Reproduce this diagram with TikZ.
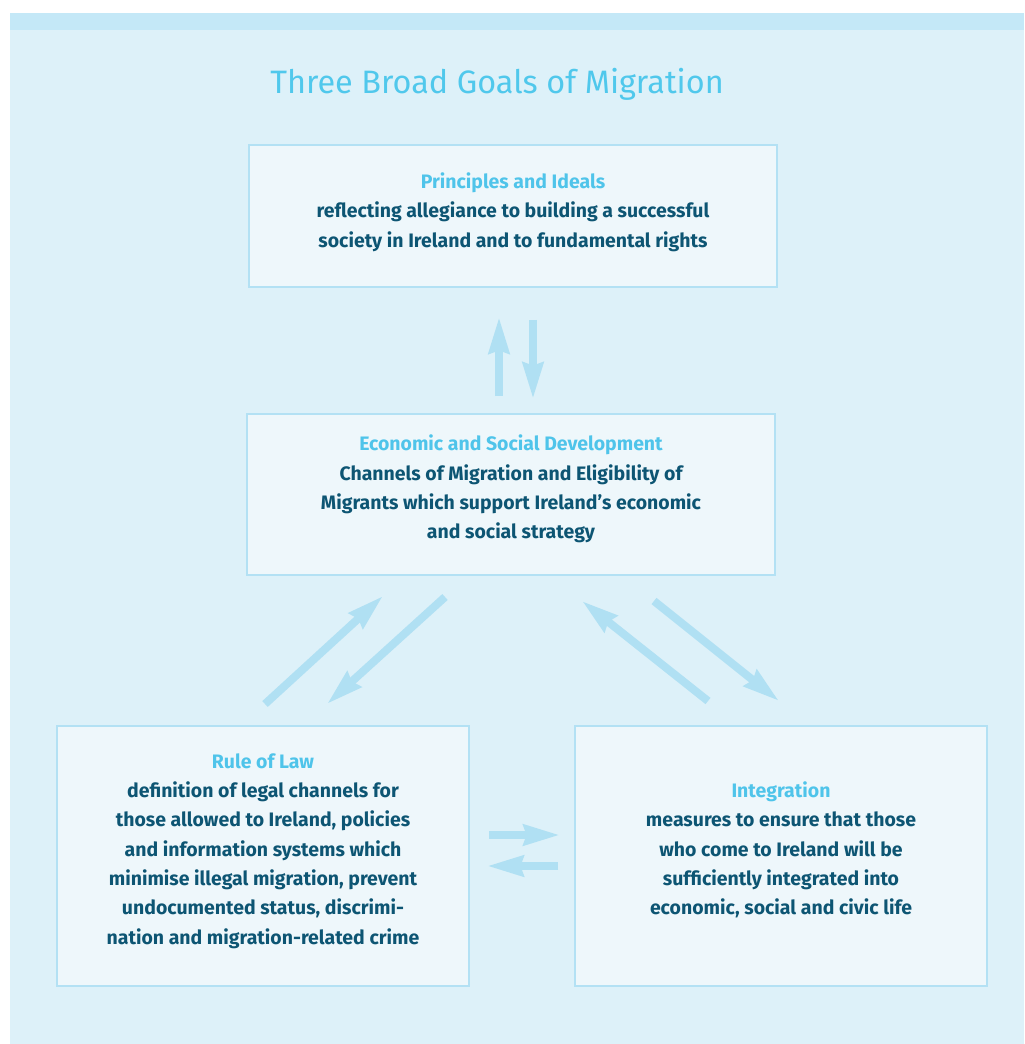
\documentclass[tikz,border=0pt]{standalone}
\usepackage{fontspec}
\setmainfont{Fira Sans}
\usetikzlibrary{arrows.meta}
\newdimen\pxu \pxu=0.75pt
\definecolor{bgc}{HTML}{DDF1F9}
\definecolor{stripec}{HTML}{C4E8F7}
\definecolor{boxfill}{HTML}{EEF7FB}
\definecolor{boxline}{HTML}{B3E1F4}
\definecolor{arrowc}{HTML}{B0E0F3}
\definecolor{titlec}{HTML}{50C8EC}
\definecolor{headc}{HTML}{4FC4EA}
\definecolor{bodyc}{HTML}{0D5573}
\tikzset{
  goalbox/.style={draw=boxline, fill=boxfill, line width=2pt, rectangle, inner sep=0pt},
  goaltext/.style={align=center, text=bodyc, font=\fontsize{14.6}{22}\selectfont\bfseries, inner sep=0pt},
  flow/.style={draw=arrowc, line width=6pt, -{Stealth[length=27pt, width=15pt, inset=2pt]}},
}
\newcommand{\hd}[1]{\textcolor{headc}{#1}}
\begin{document}
\begin{tikzpicture}[x=0.75pt, y=-0.75pt]
\useasboundingbox (0,0) rectangle (1024,1044);
\fill[bgc] (10,13) rectangle (1024,1044);
\fill[stripec] (10,13) rectangle (1024,30);
\node[text=titlec, font=\fontsize{24.3}{28}\selectfont, inner sep=0pt] (title) at (497,84) {Three Broad Goals of Migration};

\node[goalbox, minimum width=528\pxu, minimum height=142\pxu] (top) at (513,216) {};
\node[goalbox, minimum width=528\pxu, minimum height=161\pxu] (mid) at (511,494.5) {};
\node[goalbox, minimum width=412\pxu, minimum height=260\pxu] (law) at (263,856) {};
\node[goalbox, minimum width=412\pxu, minimum height=260\pxu] (integ) at (781,856) {};

\node[goaltext] (toptext) at (513,212) {\hd{Principles and Ideals}\\reflecting allegiance to building a successful\\society in Ireland and to fundamental rights};
\node[goaltext] (midtext) at (511,489) {\hd{Economic and Social Development}\\Channels of Migration and Eligibility of\\Migrants which support Ireland’s economic\\and social strategy};
\node[goaltext] (lawtext) at (263,851) {\hd{Rule of Law}\\definition of legal channels for\\those allowed to Ireland, policies\\and information systems which\\minimise illegal migration, prevent\\undocumented status, discrimi-\\nation and migration-related crime};
\node[goaltext] (integtext) at (781,850) {\hd{Integration}\\measures to ensure that those\\who come to Ireland will be\\sufficiently integrated into\\economic, social and civic life};

% arrow end points
\coordinate (u1) at (499,396); \coordinate (u2) at (499,317);
\coordinate (d1) at (533,320); \coordinate (d2) at (533,399);
\coordinate (lu1) at (265,704); \coordinate (lu2) at (383,596);
\coordinate (ld1) at (445,597); \coordinate (ld2) at (327,704);
\coordinate (ru1) at (708,701); \coordinate (ru2) at (582,601);
\coordinate (rd1) at (654,601); \coordinate (rd2) at (779,701);
\coordinate (hr1) at (489,835); \coordinate (hr2) at (560,835);
\coordinate (hl1) at (558,866); \coordinate (hl2) at (487,866);

\draw[flow] (u1) -- (u2);
\draw[flow] (d1) -- (d2);
\draw[flow] (lu1) -- (lu2);
\draw[flow] (ld1) -- (ld2);
\draw[flow] (ru1) -- (ru2);
\draw[flow] (rd1) -- (rd2);
\draw[flow] (hr1) -- (hr2);
\draw[flow] (hl1) -- (hl2);
\end{tikzpicture}
\end{document}
